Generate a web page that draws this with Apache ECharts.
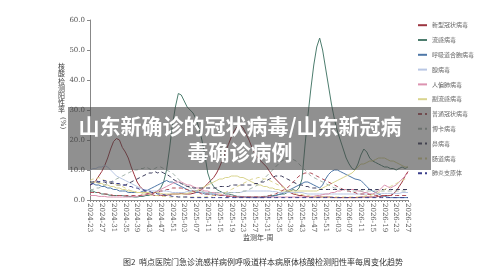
<!DOCTYPE html>
<html>
<head>
<meta charset="utf-8">
<script src="https://cdn.jsdelivr.net/npm/echarts@6/dist/echarts.min.js"></script>
<style>
  html, body { margin: 0; padding: 0; background: #fff; }
  #chart { width: 500px; height: 278px; }
</style>
</head>
<body>
<div id="chart"></div>
<script>
// 监测年-周
const weeks = [
  '2024-23','2024-24','2024-25','2024-26','2024-27','2024-28','2024-29','2024-30','2024-31','2024-32',
  '2024-33','2024-34','2024-35','2024-36','2024-37','2024-38','2024-39','2024-40','2024-41','2024-42',
  '2024-43','2024-44','2024-45','2024-46','2024-47','2024-48','2024-49','2024-50','2024-51','2024-52',
  '2025-01','2025-02','2025-03','2025-04','2025-05','2025-06','2025-07','2025-08','2025-09','2025-10',
  '2025-11','2025-12','2025-13','2025-14','2025-15','2025-16','2025-17','2025-18','2025-19','2025-20',
  '2025-21','2025-22','2025-23','2025-24','2025-25','2025-26','2025-27','2025-28','2025-29','2025-30',
  '2025-31','2025-32','2025-33','2025-34','2025-35','2025-36','2025-37','2025-38','2025-39','2025-40',
  '2025-41','2025-42','2025-43','2025-44','2025-45','2025-46','2025-47','2025-48','2025-49','2025-50',
  '2025-51','2025-52','2026-01','2026-02','2026-03','2026-04','2026-05','2026-06','2026-07','2026-08',
  '2026-09','2026-10','2026-11','2026-12','2026-13','2026-14','2026-15','2026-16','2026-17','2026-18',
  '2026-19','2026-20','2026-21','2026-22','2026-23','2026-24','2026-25','2026-26','2026-27'
]

// 各病原体阳性率(%)
const covid = [
  5.0, 5.5, 6.5, 8.0, 9.5, 11.5, 14.0, 17.0, 19.5, 20.5,
  20.0, 17.5, 16.0, 14.0, 11.0, 8.5, 6.0, 4.5, 3.5, 2.5,
  2.0, 1.8, 1.5, 1.5, 1.6, 1.5, 1.6, 1.8, 2.0, 2.0,
  2.0, 2.2, 2.0, 2.0, 2.0, 2.2, 2.5, 3.0, 3.5, 4.5,
  5.5, 6.5, 7.5, 9.0, 11.0, 13.5, 16.0, 18.5, 21.0, 23.0,
  24.5, 25.0, 24.0, 22.0, 20.0, 17.5, 15.5, 14.0, 13.0, 12.0,
  11.0, 9.5, 8.0, 7.0, 6.0, 5.0, 4.0, 3.0, 2.5, 2.0,
  1.8, 1.5, 1.5, 1.2, 1.2, 1.0, 1.0, 1.0, 1.0, 1.0,
  1.0, 1.0, 1.0, 0.8, 0.8, 0.8, 0.8, 0.8, 0.8, 0.8,
  0.8, 0.8, 1.0, 1.0, 1.0, 1.0, 1.0, 1.0, 1.2, 1.2,
  1.5, 1.5, 1.5, 2.0, 3.0, 4.5, 6.0, 8.0, 9.5
]
const flu = [
  3.0, 3.0, 2.5, 2.5, 2.0, 2.0, 1.8, 1.5, 1.5, 1.5,
  1.5, 1.5, 1.2, 1.2, 1.2, 1.0, 1.0, 1.2, 1.2, 1.5,
  1.5, 2.0, 2.5, 3.0, 4.0, 6.0, 10.0, 17.0, 25.0, 31.0,
  35.5, 35.0, 33.0, 31.0, 30.0, 29.0, 27.0, 24.0, 20.0, 15.0,
  9.0, 6.0, 4.5, 3.5, 3.0, 2.5, 2.0, 2.0, 1.8, 1.5,
  1.2, 1.2, 1.0, 1.0, 1.0, 1.0, 1.0, 1.0, 1.0, 1.2,
  1.2, 1.5, 1.5, 1.5, 1.8, 2.0, 2.0, 2.5, 3.0, 3.5,
  3.0, 4.0, 7.0, 18.0, 28.0, 37.0, 45.0, 51.0, 54.0, 50.0,
  44.0, 38.0, 32.0, 27.0, 23.0, 20.0, 17.0, 14.0, 12.0, 10.5,
  10.0, 12.0, 15.0, 17.0, 16.0, 14.0, 13.0, 12.5, 12.0, 11.5,
  11.0, 11.0, 10.5, 10.5, 10.0, 10.5, 11.0, 10.5, 11.0
]
const rsv = [
  5.5, 5.5, 5.0, 5.0, 4.5, 4.5, 4.0, 4.0, 3.5, 3.5,
  3.0, 3.0, 3.0, 2.5, 2.5, 2.5, 2.5, 2.5, 3.0, 3.0,
  3.5, 4.0, 4.5, 5.0, 5.5, 6.0, 6.5, 6.0, 6.0, 5.5,
  5.0, 4.5, 4.0, 3.5, 3.0, 3.0, 2.5, 2.5, 2.5, 2.0,
  2.0, 2.0, 2.0, 1.8, 1.5, 1.5, 1.5, 1.2, 1.2, 1.0,
  1.0, 1.0, 1.0, 1.0, 0.8, 0.8, 0.8, 0.8, 0.8, 0.8,
  1.0, 1.0, 1.2, 1.5, 1.8, 2.0, 2.5, 3.0, 3.5, 4.0,
  4.5, 5.0, 5.5, 6.0, 6.0, 5.5, 5.0, 4.5, 4.0, 5.0,
  7.0, 8.5, 9.5, 10.0, 10.0, 9.5, 9.0, 8.5, 8.0, 7.5,
  7.0, 6.8, 6.5, 5.5, 4.5, 3.5, 3.0, 2.5, 2.0, 1.5,
  1.2, 1.0, 0.8, 0.8, 0.8, 0.8, 0.8, 0.8, 0.8
]
const adeno = [
  10.0, 10.5, 10.5, 11.0, 11.0, 11.5, 11.0, 10.0, 9.0, 8.0,
  7.5, 7.0, 6.5, 6.0, 5.5, 5.0, 4.5, 4.0, 3.5, 3.5,
  3.0, 3.0, 3.0, 3.0, 3.0, 3.0, 3.0, 2.8, 2.5, 2.5,
  2.5, 2.5, 2.5, 2.8, 3.0, 3.0, 3.0, 2.8, 2.5, 2.5,
  2.5, 2.5, 2.5, 2.5, 2.5, 2.5, 2.5, 2.5, 2.5, 2.5,
  2.5, 2.5, 2.8, 3.0, 3.0, 3.0, 3.0, 3.0, 3.0, 3.0,
  3.0, 3.0, 2.8, 2.8, 2.5, 2.5, 2.5, 2.5, 2.5, 2.5,
  2.5, 2.5, 2.5, 2.2, 2.0, 2.0, 2.0, 2.0, 2.0, 2.0,
  2.0, 2.0, 2.0, 2.0, 2.0, 2.0, 2.0, 2.0, 2.0, 2.0,
  2.0, 2.0, 2.0, 2.0, 2.0, 2.0, 2.0, 2.0, 2.0, 2.2,
  2.2, 2.2, 2.2, 2.2, 2.2, 2.2, 2.5, 2.5, 2.5
]
const hmpv = [
  1.5, 1.5, 1.5, 1.2, 1.2, 1.2, 1.0, 1.0, 1.0, 1.0,
  1.0, 1.0, 1.0, 1.0, 1.0, 1.2, 1.2, 1.5, 1.5, 1.8,
  2.0, 2.0, 2.5, 3.0, 3.5, 4.0, 4.5, 5.0, 5.5, 6.0,
  6.0, 6.0, 5.5, 5.0, 5.0, 4.5, 4.0, 4.0, 3.5, 3.0,
  3.0, 2.5, 2.5, 2.0, 2.0, 1.8, 1.5, 1.5, 1.2, 1.2,
  1.0, 1.0, 1.0, 1.0, 1.0, 1.0, 1.0, 1.0, 1.0, 1.0,
  1.0, 1.0, 1.0, 1.0, 1.0, 1.0, 1.0, 1.0, 1.0, 1.0,
  1.0, 1.0, 1.0, 1.0, 1.0, 1.2, 1.2, 1.5, 1.5, 1.8,
  2.0, 2.0, 2.5, 2.5, 3.0, 3.0, 3.5, 3.5, 3.5, 3.5,
  3.5, 3.0, 3.0, 2.5, 2.5, 2.0, 2.0, 2.5, 3.0, 4.0,
  5.0, 4.5, 4.0, 4.5, 5.0, 6.0, 7.0, 8.0, 9.0
]
const para = [
  5.5, 6.0, 6.0, 5.5, 5.5, 5.0, 5.0, 4.5, 4.5, 4.0,
  4.0, 3.5, 3.5, 3.0, 3.0, 2.8, 2.5, 2.5, 2.5, 2.5,
  2.5, 2.5, 2.5, 2.5, 2.2, 2.0, 2.0, 2.0, 2.0, 2.0,
  2.0, 2.0, 2.0, 2.2, 2.5, 2.8, 3.0, 3.5, 4.0, 4.5,
  5.0, 5.5, 6.0, 6.5, 7.0, 7.0, 7.5, 7.5, 8.0, 8.0,
  8.0, 7.5, 7.5, 7.0, 6.5, 6.0, 5.5, 5.0, 5.0, 4.5,
  4.5, 4.0, 4.0, 3.5, 3.5, 3.0, 3.0, 3.0, 3.0, 3.0,
  3.0, 3.0, 3.0, 3.0, 3.0, 3.0, 3.0, 3.0, 3.5, 4.0,
  4.5, 5.0, 5.5, 6.0, 6.5, 7.0, 7.5, 8.0, 8.5, 9.0,
  10.0, 11.0, 12.0, 12.0, 12.5, 13.0, 13.0, 13.5, 14.0, 14.0,
  14.0, 13.5, 13.0, 13.0, 12.5, 12.0, 11.5, 11.0, 11.0
]
const hcov = [
  2.5, 2.5, 2.5, 2.5, 2.0, 2.0, 2.0, 1.8, 1.5, 1.5,
  1.5, 1.5, 1.5, 1.5, 1.5, 1.5, 1.5, 1.5, 1.8, 2.0,
  2.0, 2.0, 2.5, 2.5, 3.0, 3.0, 3.5, 3.5, 4.0, 4.0,
  4.0, 4.0, 3.5, 3.5, 3.0, 3.0, 2.5, 2.5, 2.0, 2.0,
  2.0, 1.8, 1.5, 1.5, 1.5, 1.5, 1.2, 1.2, 1.2, 1.2,
  1.0, 1.0, 1.0, 1.0, 1.0, 1.0, 1.0, 1.0, 1.0, 1.0,
  1.2, 1.5, 1.8, 2.0, 2.5, 3.0, 3.5, 4.0, 5.0, 6.0,
  7.0, 8.0, 8.5, 9.0, 9.0, 9.0, 8.5, 8.0, 7.5, 7.0,
  6.5, 6.0, 5.5, 5.0, 4.5, 4.0, 3.5, 3.0, 3.0, 2.5,
  2.5, 2.0, 2.0, 2.0, 2.0, 1.8, 1.8, 1.5, 1.5, 1.5,
  1.5, 1.5, 1.5, 1.5, 1.5, 1.5, 1.5, 1.5, 1.5
]
const boca = [
  3.5, 3.5, 4.0, 4.0, 4.5, 5.0, 5.5, 6.0, 6.5, 7.0,
  7.5, 8.0, 8.5, 9.0, 9.5, 10.0, 10.0, 10.5, 10.5, 11.0,
  10.5, 10.0, 10.5, 11.0, 11.0, 10.5, 10.0, 9.5, 9.0, 8.0,
  7.0, 6.0, 5.0, 4.5, 4.0, 3.5, 3.0, 3.0, 3.0, 2.5,
  2.5, 2.5, 2.5, 2.5, 2.5, 2.5, 2.5, 2.5, 2.5, 2.5,
  2.5, 2.5, 3.0, 3.0, 3.5, 4.0, 4.5, 5.0, 6.0, 7.0,
  8.0, 9.0, 10.0, 11.0, 12.0, 13.0, 13.5, 14.0, 14.0, 13.5,
  13.0, 12.0, 11.0, 10.0, 9.0, 8.0, 7.5, 7.0, 6.5, 6.0,
  5.5, 5.0, 4.5, 4.0, 4.0, 3.5, 3.5, 3.5, 3.0, 3.0,
  3.0, 3.0, 3.0, 3.0, 3.0, 3.0, 3.0, 3.0, 3.0, 3.0,
  3.0, 3.0, 3.0, 3.0, 3.0, 3.0, 3.0, 3.0, 3.0
]
const rhino = [
  6.0, 6.0, 6.5, 6.0, 6.0, 6.0, 5.5, 5.5, 5.5, 5.0,
  5.0, 5.0, 5.0, 5.5, 6.0, 6.5, 7.0, 7.5, 8.0, 8.5,
  9.0, 9.0, 9.5, 9.0, 9.5, 9.0, 8.5, 8.0, 7.0, 6.5,
  6.0, 5.5, 5.0, 4.5, 4.5, 4.0, 4.0, 4.0, 4.0, 4.0,
  4.0, 4.0, 4.0, 4.0, 4.5, 4.5, 4.5, 4.5, 5.0, 5.0,
  5.0, 5.0, 5.0, 5.0, 5.0, 5.0, 5.5, 5.5, 6.0, 6.0,
  6.5, 7.0, 7.5, 8.0, 8.0, 8.0, 7.5, 7.0, 6.5, 6.0,
  5.5, 5.0, 5.0, 4.5, 4.5, 4.0, 4.0, 4.0, 3.5, 3.5,
  3.5, 3.5, 3.5, 3.5, 3.5, 3.5, 3.5, 3.5, 3.5, 3.5,
  3.5, 3.5, 3.5, 3.5, 3.5, 3.5, 3.5, 3.5, 3.5, 3.5,
  3.5, 3.5, 3.5, 3.5, 3.5, 3.5, 3.5, 3.5, 3.5
]
const entero = [
  6.5, 7.0, 7.0, 7.5, 7.0, 6.5, 6.5, 6.0, 5.5, 5.0,
  5.0, 4.5, 4.0, 3.5, 3.0, 3.0, 2.5, 2.5, 2.0, 2.0,
  1.8, 1.5, 1.5, 1.5, 1.2, 1.2, 1.2, 1.0, 1.0, 1.0,
  1.0, 1.0, 1.0, 1.0, 1.0, 1.0, 1.0, 1.0, 1.0, 1.0,
  1.2, 1.2, 1.5, 1.5, 1.8, 2.0, 2.5, 3.0, 3.5, 4.0,
  4.5, 5.0, 5.5, 6.0, 6.5, 7.0, 7.0, 7.5, 7.5, 7.0,
  7.0, 6.5, 6.0, 5.5, 5.0, 4.5, 4.0, 3.5, 3.0, 2.5,
  2.0, 2.0, 1.8, 1.5, 1.5, 1.2, 1.2, 1.0, 1.0, 1.0,
  1.0, 1.0, 1.0, 1.0, 1.0, 1.0, 1.0, 1.0, 1.0, 1.0,
  1.0, 1.0, 1.2, 1.2, 1.5, 1.5, 1.8, 2.0, 2.5, 3.0,
  3.5, 4.0, 4.5, 5.0, 5.5, 6.0, 6.5, 7.0, 7.0
]
const mp = [
  5.0, 5.5, 6.0, 6.0, 6.5, 6.5, 6.0, 6.0, 6.0, 5.5,
  5.5, 5.0, 5.0, 4.5, 4.5, 4.0, 4.0, 3.5, 3.5, 3.0,
  3.0, 2.5, 2.5, 2.0, 2.0, 1.8, 1.5, 1.5, 1.2, 1.2,
  1.0, 1.0, 1.0, 1.0, 0.8, 0.8, 0.8, 0.8, 0.8, 0.8,
  0.8, 0.8, 0.8, 0.8, 0.8, 0.8, 0.8, 0.8, 0.8, 0.8,
  0.8, 0.8, 0.8, 0.8, 0.8, 0.8, 0.8, 0.8, 0.8, 0.8,
  0.8, 0.8, 0.8, 0.8, 0.8, 0.8, 0.8, 0.8, 0.8, 0.8,
  0.8, 0.8, 0.8, 0.8, 0.8, 0.8, 0.8, 0.8, 0.8, 0.8,
  0.8, 0.8, 0.8, 0.8, 0.8, 0.8, 0.8, 0.8, 0.8, 0.8,
  0.8, 0.8, 0.8, 0.8, 0.8, 0.8, 0.8, 0.8, 0.8, 0.8,
  0.8, 0.8, 0.8, 0.8, 0.8, 0.8, 0.8, 0.8, 0.8
]

const names = ['新型冠状病毒','流感病毒','呼吸道合胞病毒','腺病毒','人偏肺病毒','副流感病毒',
               '普通冠状病毒','博卡病毒','鼻病毒','肠道病毒','肺炎支原体']
const colors = ['#9c3540','#4d7d6e','#4f78a8','#b9c7e4','#dc93b0','#d9d48e',
                '#b0505a','#a5b5ad','#3d3d5c','#ddd592','#3b3f8c']
const values = [covid, flu, rsv, adeno, hmpv, para, hcov, boca, rhino, entero, mp]

const serif = "'DejaVu Serif', 'Liberation Serif', 'Noto Sans CJK SC', serif"
const cjk = "'Noto Sans CJK SC', sans-serif"

let seriesList = []
names.forEach((n, i) => {
  seriesList.push({
    name: n,
    type: 'line',
    data: values[i],
    symbol: 'none',
    smooth: false,
    lineStyle: {
      color: colors[i],
      width: 1,
      type: i >= 6 ? [4, 3] : 'solid'
    },
    itemStyle: { color: colors[i] },
    z: 2
  })
})

let myChart = echarts.init(document.getElementById('chart'))
let option = {
  animation: false,
  backgroundColor: '#fff',
  grid: { left: 90, right: 92, top: 20, bottom: 78 },
  legend: {
    orient: 'vertical',
    left: 412,
    top: 17,
    itemWidth: 9,
    itemHeight: 8,
    itemGap: 8.4,
    data: names,
    itemStyle: { opacity: 0 },
    textStyle: { fontSize: 6, color: '#666', fontFamily: cjk }
  },
  xAxis: {
    type: 'category',
    data: weeks,
    boundaryGap: false,
    axisLine: { lineStyle: { color: '#888', width: 1 } },
    axisTick: { interval: 0, length: 2, lineStyle: { color: '#888' } },
    axisLabel: {
      interval: 3,
      rotate: -90,
      fontSize: 7,
      color: '#555',
      fontFamily: serif,
      margin: 3
    }
  },
  yAxis: {
    type: 'value',
    min: 0,
    max: 60,
    interval: 10,
    axisLine: { show: true, lineStyle: { color: '#888' } },
    axisTick: { show: true, length: 3, lineStyle: { color: '#888' } },
    splitLine: { show: false },
    axisLabel: {
      formatter: v => v.toFixed(1),
      fontSize: 7,
      color: '#555',
      fontFamily: serif,
      margin: 5
    }
  },
  graphic: [
    {
      type: 'text', left: 58, top: 63, z: 10,
      style: { text: '核\n酸\n检\n测\n阳\n性\n率', fontSize: 7, lineHeight: 7.2, fill: '#444', fontFamily: cjk }
    },
    {
      type: 'text', x: 66, y: 117, rotation: -Math.PI / 2, z: 10,
      style: { text: '(%)', fontSize: 7, fill: '#444', fontFamily: serif }
    },
    {
      type: 'text', left: 243, top: 234, z: 10,
      style: { text: '监测年-周', fontSize: 7, fill: '#444', fontFamily: cjk }
    },
    {
      type: 'text', x: 263, y: 262, z: 10,
      style: {
        text: '图2  哨点医院门急诊流感样病例呼吸道样本病原体核酸检测阳性率每周变化趋势',
        fontSize: 8, fill: '#333', fontFamily: cjk, align: 'center', verticalAlign: 'middle'
      }
    },
    {
      type: 'rect', z: 20,
      shape: { x: 68, y: 107, width: 363, height: 63 },
      style: { fill: 'rgba(70,70,70,0.6)' }
    },
    {
      type: 'text', x: 240, y: 126, z: 21,
      style: {
        text: '山东新确诊的冠状病毒/山东新冠病', fontSize: 21, fontWeight: 'bold',
        fill: '#fff', fontFamily: cjk, align: 'center', verticalAlign: 'middle'
      }
    },
    {
      type: 'text', x: 240, y: 152, z: 21,
      style: {
        text: '毒确诊病例', fontSize: 21, fontWeight: 'bold',
        fill: '#fff', fontFamily: cjk, align: 'center', verticalAlign: 'middle'
      }
    }
  ],
  series: seriesList
}
myChart.setOption(option)
</script>
</body>
</html>
